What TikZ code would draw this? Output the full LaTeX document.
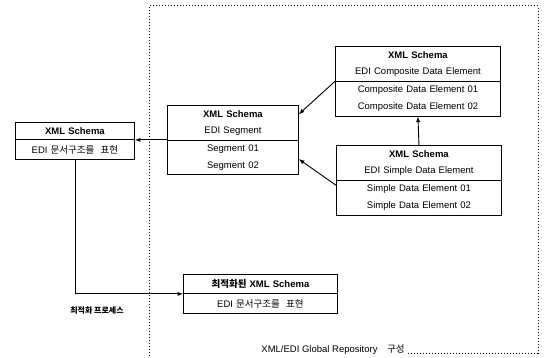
\documentclass[tikz,border=0pt]{standalone}
\usepackage{fontspec}
\setmainfont{Liberation Sans}
\newfontfamily\krfont{Noto Sans CJK KR}
\newcommand\kor[1]{{\krfont #1}}
\usetikzlibrary{shapes.multipart}

\tikzset{
  schema/.style={rectangle split, rectangle split parts=2, draw, line width=.9pt,
    align=center, font=\fontsize{9.5}{16.5}\selectfont, inner xsep=0pt, inner ysep=4.3pt},
  single/.style={schema, inner ysep=4.8pt},
  repo/.style={dotted, line width=1pt},
  link/.style={-latex, line width=.9pt}
}

\begin{document}
\begin{tikzpicture}[x=1pt,y=-1pt]
  \useasboundingbox (0,0) rectangle (549,358);

  \node (rep) [single, text width=119pt, anchor=north west] at (15,122)
    {\textbf{XML Schema} \nodepart{two} EDI \kor{문서구조를\ \ 표현}};
  \node (seg) [schema, text width=131pt, anchor=north west] at (167,105)
    {\textbf{XML Schema}\\EDI Segment \nodepart{two} Segment 01\\Segment 02};
  \node (comp) [schema, text width=165pt, anchor=north west] at (335,46)
    {\textbf{XML Schema}\\EDI Composite Data Element
     \nodepart{two} Composite Data Element 01\\Composite Data Element 02};
  \node (simp) [schema, text width=165pt, anchor=north west] at (336,145)
    {\textbf{XML Schema}\\EDI Simple Data Element
     \nodepart{two} Simple Data Element 01\\Simple Data Element 02};
  \node (opt) [single, text width=154pt, anchor=north west] at (183,274)
    {\textbf{\kor{최적화된} XML Schema} \nodepart{two} EDI \kor{문서구조를\ \ 표현}};

  \node (proc) at (97,311) {\fontsize{8}{9}\selectfont\bfseries\kor{최적화\ 프로세스}};
  \node (foot) at (333,350) {\fontsize{9.5}{10}\selectfont XML/EDI Global Repository\quad\kor{구성}};

  \draw[repo] (foot.east |- 0,353) -- (538,353) -- (538,6) -- (149,6) -- (149,358);

  \draw[link] (seg.west |- rep.text split east) -- (rep.text split east);
  \draw[link] (comp.text split west) -- ([yshift=26pt]seg.east);
  \draw[link] ([yshift=-5pt]simp.text split west) -- ([yshift=-19pt]seg.east);
  \draw[link] (simp.north) -- (comp.south);
  \draw[link] (rep.south) -- (rep.south |- opt.text split west)
    -- (opt.text split west);
\end{tikzpicture}
\end{document}
